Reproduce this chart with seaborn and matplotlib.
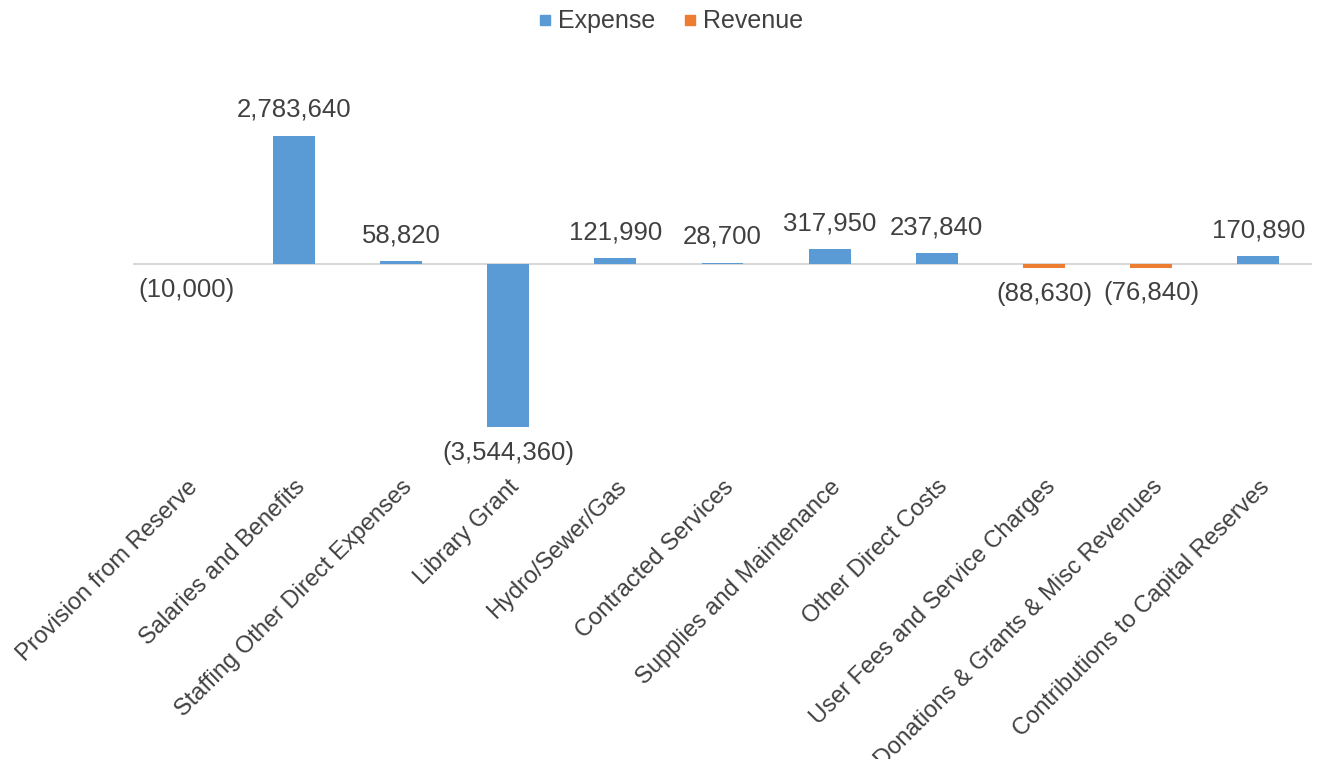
import pandas as pd
import numpy as np
import matplotlib
matplotlib.use("Agg")
import matplotlib.pyplot as plt
from matplotlib.lines import Line2D
import seaborn as sns

# Data
categories = ["Provision from Reserve", "Salaries and Benefits", "Staffing Other Direct Expenses",
              "Library Grant", "Hydro/Sewer/Gas", "Contracted Services", "Supplies and Maintenance",
              "Other Direct Costs", "User Fees and Service Charges", "Donations & Grants & Misc Revenues",
              "Contributions to Capital Reserves"]
values = [-10000, 2783640, 58820, -3544360, 121990, 28700, 317950, 237840, -88630, -76840, 170890]
kinds = ["Revenue", "Expense", "Expense", "Expense", "Expense", "Expense", "Expense",
         "Expense", "Revenue", "Revenue", "Expense"]

df = pd.DataFrame({"category": categories, "value": values, "kind": kinds})
palette = {"Expense": "#5B9BD5", "Revenue": "#ED7D31"}
text_col = "#404040"

sns.set_style("white")
plt.rcParams['font.family'] = ['Liberation Sans', 'DejaVu Sans']

fig = plt.figure(figsize=(13.18, 7.59), dpi=100)
ax = fig.add_axes([0.101, 0.4335, 0.8944, 0.401])

ax.axhline(0, color="#D9D9D9", lw=1.5, zorder=0)
sns.barplot(data=df, x="category", y="value", hue="kind", dodge=False,
            palette=palette, saturation=1, width=0.39, order=categories,
            hue_order=["Expense", "Revenue"], linewidth=0, ax=ax, legend=False, zorder=2)

ax.set_ylim(-3.6e6, 3.0e6)
ax.set_xlim(-0.5, len(categories) - 0.5)

for s in ax.spines.values():
    s.set_visible(False)
ax.set_yticks([])
ax.set_xlabel("")
ax.set_ylabel("")
ax.tick_params(axis="x", length=0, pad=33)
ax.set_xticks(range(len(categories)))
ax.set_xticklabels(categories, rotation=45, ha="right", rotation_mode="anchor",
                   fontsize=17, color=text_col)
for t in ax.get_xticklabels():
    t.set_x(-0.05)

# data labels, accounting style for negatives
for i, v in enumerate(values):
    lab = f"{v:,}" if v >= 0 else f"({-v:,})"
    ax.annotate(lab, (i, v), xytext=(0, 10 if v >= 0 else -10), textcoords="offset points",
                ha="center", va="bottom" if v >= 0 else "top",
                fontsize=18.5, color=text_col)

handles = [Line2D([], [], marker="s", linestyle="", color=palette[k], markersize=7, label=k)
           for k in ["Expense", "Revenue"]]
fig.legend(handles=handles, loc="center", bbox_to_anchor=(0.5085, 0.972), ncol=2, frameon=False,
           fontsize=18, handlelength=0.6, handletextpad=0.2, columnspacing=1.1,
           labelcolor=text_col)

fig.savefig("out.png", dpi=100)
